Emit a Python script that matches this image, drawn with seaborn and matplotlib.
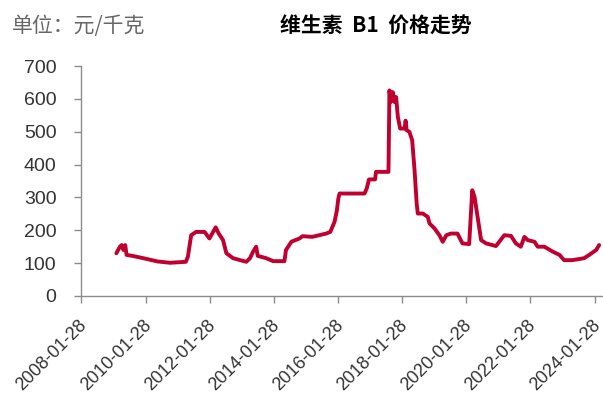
import numpy as np
import matplotlib
matplotlib.use("Agg")
import matplotlib.pyplot as plt
import matplotlib.transforms as mtransforms
import pandas as pd
import seaborn as sns

# price of vitamin B1, yuan/kg
dates = [
    "2009-03-01", "2009-04-10", "2009-05-01", "2009-05-20", "2009-06-10", "2009-06-25",
    "2009-09-01", "2010-01-01", "2010-06-15", "2010-11-01", "2011-05-01", "2011-05-25",
    "2011-07-01", "2011-08-25", "2011-12-01", "2012-01-25", "2012-04-05", "2012-05-10",
    "2012-06-28", "2012-08-05", "2012-10-20", "2013-03-20", "2013-05-01", "2013-06-05",
    "2013-07-10", "2013-07-28", "2013-11-01", "2014-01-20", "2014-05-28", "2014-06-15",
    "2014-08-15", "2014-11-15", "2014-12-20", "2015-04-10", "2015-09-15", "2015-11-01",
    "2015-12-20", "2016-01-15", "2016-02-01", "2016-02-15", "2016-11-25", "2016-12-20",
    "2017-01-15", "2017-03-25", "2017-04-05", "2017-08-25", "2017-09-05", "2017-09-20",
    "2017-10-12", "2017-11-01", "2017-11-20", "2017-12-10", "2018-01-05", "2018-02-25",
    "2018-03-08", "2018-03-20", "2018-04-20", "2018-05-22", "2018-06-18", "2018-07-12",
    "2018-07-25", "2018-09-20", "2018-11-15", "2018-12-05", "2019-01-30", "2019-03-28",
    "2019-05-05", "2019-06-15", "2019-08-05", "2019-10-20", "2019-12-15", "2020-03-01",
    "2020-04-05", "2020-05-01", "2020-07-15", "2020-09-10", "2020-12-31", "2021-04-05",
    "2021-06-20", "2021-08-15", "2021-10-10", "2021-11-20", "2021-12-28", "2022-03-15",
    "2022-04-20", "2022-07-05", "2022-10-08", "2022-12-25", "2023-02-15", "2023-05-20",
    "2023-10-01", "2023-11-28", "2024-02-15", "2024-03-20",
]
prices = [
    130, 150, 155, 140, 155, 125,
    122, 115, 105, 101, 104, 120,
    185, 195, 195, 175, 209, 190,
    170, 130, 115, 104, 115, 135,
    150, 122, 115, 106, 106, 140,
    165, 175, 182, 180, 190, 195,
    226, 260, 297, 312, 312, 327,
    355, 355, 378, 378, 626, 591,
    621, 591, 606, 545, 510, 510,
    534, 505, 500, 474, 383, 282,
    251, 251, 241, 221, 206, 185,
    165, 185, 190, 190, 160, 158,
    322, 302, 170, 160, 152, 185,
    183, 160, 150, 180, 170, 165,
    150, 150, 135, 125, 109, 109,
    115, 125, 140, 155,
]
tick_dates = ["2008-01-28", "2010-01-28", "2012-01-28", "2014-01-28", "2016-01-28",
              "2018-01-28", "2020-01-28", "2022-01-28", "2024-01-28"]
y_ticks = [0, 100, 200, 300, 400, 500, 600, 700]

df = pd.DataFrame({"date": pd.to_datetime(dates), "price": prices})

sns.set_style("white")
plt.rcParams["font.family"] = ["Liberation Sans", "Noto Sans CJK SC", "DejaVu Sans"]

fig = plt.figure(figsize=(6.03, 4.01), dpi=100)
ax = fig.add_axes([0.135, 0.262, 0.865, 0.573])

sns.lineplot(data=df, x="date", y="price", color="#C0002F", linewidth=2.8, ax=ax)

ax.set_xlim(pd.Timestamp("2008-01-28"), pd.Timestamp("2024-05-03"))
ax.set_ylim(0, 700)
ax.set_yticks(y_ticks)
ax.set_yticklabels([str(v) for v in y_ticks])
ax.set_xticks(pd.to_datetime(tick_dates))
ax.set_xticklabels(tick_dates, rotation=45, ha="right", rotation_mode="anchor")

for s in ["top", "right"]:
    ax.spines[s].set_visible(False)
for s in ["left", "bottom"]:
    ax.spines[s].set_color("#8C8C8C")
    ax.spines[s].set_linewidth(1.0)

ax.tick_params(axis="y", left=True, direction="out", length=5, width=1, color="#8C8C8C",
               labelsize=14, labelcolor="#333333", pad=13)
ax.tick_params(axis="x", bottom=True, direction="out", length=5, width=1, color="#8C8C8C",
               labelsize=13, labelcolor="#333333", pad=10)

# nudge the rotated date labels a little to the left
shift = mtransforms.ScaledTranslation(-3 / 100, 0, fig.dpi_scale_trans)
for lbl in ax.get_xticklabels():
    lbl.set_transform(lbl.get_transform() + shift)

ax.set_xlabel("")
ax.set_ylabel("")
ax.grid(False)

fig.text(0.02, 0.935, "单位：元/千克", fontsize=15, color="#666666", va="center",
         family=["Noto Sans CJK SC", "DejaVu Sans"])
fig.text(0.624, 0.935, "维生素  B1  价格走势", fontsize=15, fontweight="bold", color="black",
         ha="center", va="center", family=["Noto Sans CJK SC", "DejaVu Sans"])

fig.savefig("out.png", dpi=100)
